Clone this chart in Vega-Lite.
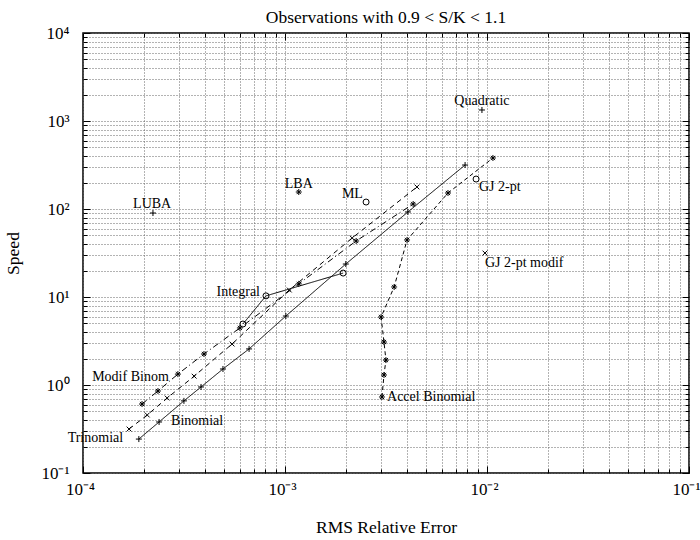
{
  "$schema": "https://vega.github.io/schema/vega-lite/v6.json",
  "width": 606,
  "height": 440,
  "autosize": {"type": "none"},
  "padding": {"left": 83, "top": 33, "right": 11, "bottom": 67},
  "background": "white",
  "title": {"text": "Observations with 0.9 < S/K < 1.1", "font": "Liberation Serif", "fontSize": 17.5, "fontWeight": "normal", "color": "black", "offset": -2},
  "config": {"view": {"stroke": "black", "strokeWidth": 1.5}, "font": "Liberation Serif"},
  "datasets": {
    "pts": [
      {"series": "Binomial", "err": 0.000189, "speed": 0.243},
      {"series": "Binomial", "err": 0.000238, "speed": 0.38},
      {"series": "Binomial", "err": 0.000316, "speed": 0.66},
      {"series": "Binomial", "err": 0.000384, "speed": 0.95},
      {"series": "Binomial", "err": 0.000493, "speed": 1.52},
      {"series": "Binomial", "err": 0.000664, "speed": 2.57},
      {"series": "Binomial", "err": 0.00101, "speed": 6.08},
      {"series": "Binomial", "err": 0.0020, "speed": 23.7},
      {"series": "Binomial", "err": 0.00406, "speed": 92.5},
      {"series": "Binomial", "err": 0.00779, "speed": 316},
      {"series": "Trinomial", "err": 0.000169, "speed": 0.316},
      {"series": "Trinomial", "err": 0.000208, "speed": 0.456},
      {"series": "Trinomial", "err": 0.000261, "speed": 0.711},
      {"series": "Trinomial", "err": 0.000355, "speed": 1.26},
      {"series": "Trinomial", "err": 0.000547, "speed": 2.92},
      {"series": "Trinomial", "err": 0.00105, "speed": 12.0},
      {"series": "Trinomial", "err": 0.00215, "speed": 46.8},
      {"series": "Trinomial", "err": 0.0045, "speed": 178},
      {"series": "Modif Binom", "err": 0.000196, "speed": 0.608},
      {"series": "Modif Binom", "err": 0.000235, "speed": 0.855},
      {"series": "Modif Binom", "err": 0.000295, "speed": 1.33},
      {"series": "Modif Binom", "err": 0.000397, "speed": 2.25},
      {"series": "Modif Binom", "err": 0.000598, "speed": 4.45},
      {"series": "Modif Binom", "err": 0.00117, "speed": 14.1},
      {"series": "Modif Binom", "err": 0.00225, "speed": 43.3},
      {"series": "Modif Binom", "err": 0.00431, "speed": 114},
      {"series": "Integral", "err": 0.000619, "speed": 4.93},
      {"series": "Integral", "err": 0.000805, "speed": 10.3},
      {"series": "Integral", "err": 0.00194, "speed": 18.7},
      {"series": "Accel Binomial", "err": 0.00302, "speed": 0.731},
      {"series": "Accel Binomial", "err": 0.00309, "speed": 1.30},
      {"series": "Accel Binomial", "err": 0.00316, "speed": 1.92},
      {"series": "Accel Binomial", "err": 0.00309, "speed": 3.08},
      {"series": "Accel Binomial", "err": 0.00299, "speed": 5.93},
      {"series": "Accel Binomial", "err": 0.00347, "speed": 13.0},
      {"series": "Accel Binomial", "err": 0.00402, "speed": 44.5},
      {"series": "Accel Binomial", "err": 0.00641, "speed": 152},
      {"series": "Accel Binomial", "err": 0.0107, "speed": 380},
      {"series": "LUBA", "err": 0.000222, "speed": 90},
      {"series": "LBA", "err": 0.00117, "speed": 156},
      {"series": "ML", "err": 0.00252, "speed": 120},
      {"series": "Quadratic", "err": 0.00944, "speed": 1334},
      {"series": "GJ 2-pt", "err": 0.00883, "speed": 219},
      {"series": "GJ 2-pt modif", "err": 0.00977, "speed": 31.6}
    ],
    "labels": [
      {"label": "Trinomial", "err": 0.000158, "speed": 0.25, "align": "right"},
      {"label": "Binomial", "err": 0.000273, "speed": 0.39, "align": "left"},
      {"label": "Modif Binom", "err": 0.000111, "speed": 1.23, "align": "left"},
      {"label": "Integral", "err": 0.000752, "speed": 11.4, "align": "right"},
      {"label": "LUBA", "err": 0.00022, "speed": 114, "align": "center"},
      {"label": "LBA", "err": 0.00117, "speed": 192, "align": "center"},
      {"label": "ML", "err": 0.00243, "speed": 148, "align": "right"},
      {"label": "Quadratic", "err": 0.00944, "speed": 1686, "align": "center"},
      {"label": "GJ 2-pt", "err": 0.00912, "speed": 178, "align": "left"},
      {"label": "GJ 2-pt modif", "err": 0.00977, "speed": 24.3, "align": "left"},
      {"label": "Accel Binomial", "err": 0.0032, "speed": 0.73, "align": "left"}
    ]
  },
  "layer": [
    {
      "data": {"name": "pts"},
      "transform": [{"filter": {"field": "series", "oneOf": ["Binomial", "Trinomial", "Modif Binom", "Integral", "Accel Binomial"]}}],
      "mark": {"type": "line", "color": "black", "strokeWidth": 1},
      "encoding": {
        "x": {"field": "err", "type": "quantitative", "scale": {"type": "log", "domain": [0.0001, 0.1], "nice": false},
          "axis": {
            "orient": "bottom",
            "values": [0.0001,0.0002,0.0003,0.0004,0.0005,0.0006,0.0007,0.0008,0.0009,0.001,0.002,0.003,0.004,0.005,0.006,0.007,0.008,0.009,0.01,0.02,0.03,0.04,0.05,0.06,0.07,0.08,0.09,0.1],
            "labelExpr": "abs(log(datum.value)/LN10 - round(log(datum.value)/LN10)) < 0.01 ? '10' + (round(log(datum.value)/LN10) == -4 ? '⁻⁴' : round(log(datum.value)/LN10) == -3 ? '⁻³' : round(log(datum.value)/LN10) == -2 ? '⁻²' : '⁻¹') : ''",
            "grid": true, "gridDash": [1, 2], "gridColor": "#666", "gridWidth": 1,
            "domain": false, "tickColor": "black", "tickWidth": 1,
            "tickSize": {"condition": {"test": "abs(log(datum.value)/LN10 - round(log(datum.value)/LN10)) < 0.01", "value": -7}, "value": -4},
            "labelPadding": 15, "labelOffset": -3, "labelFont": "Liberation Serif", "labelFontSize": 17, "labelColor": "black", "labelFlush": false, "labelOverlap": false,
            "title": "RMS Relative Error", "titleFont": "Liberation Serif", "titleFontSize": 17.5, "titleFontWeight": "normal", "titleColor": "black", "titlePadding": 18
          }},
        "y": {"field": "speed", "type": "quantitative", "scale": {"type": "log", "domain": [0.1, 10000], "nice": false},
          "axis": {
            "orient": "left",
            "values": [0.1,0.2,0.3,0.4,0.5,0.6,0.7,0.8,0.9,1,2,3,4,5,6,7,8,9,10,20,30,40,50,60,70,80,90,100,200,300,400,500,600,700,800,900,1000,2000,3000,4000,5000,6000,7000,8000,9000,10000],
            "labelExpr": "abs(log(datum.value)/LN10 - round(log(datum.value)/LN10)) < 0.01 ? '10' + (round(log(datum.value)/LN10) == -1 ? '⁻¹' : round(log(datum.value)/LN10) == 0 ? '⁰' : round(log(datum.value)/LN10) == 1 ? '¹' : round(log(datum.value)/LN10) == 2 ? '²' : round(log(datum.value)/LN10) == 3 ? '³' : '⁴') : ''",
            "grid": true, "gridDash": [1, 2], "gridColor": "#666", "gridWidth": 1,
            "domain": false, "tickColor": "black", "tickWidth": 1,
            "tickSize": {"condition": {"test": "abs(log(datum.value)/LN10 - round(log(datum.value)/LN10)) < 0.01", "value": -7}, "value": -4},
            "labelPadding": 21, "labelFont": "Liberation Serif", "labelFontSize": 17, "labelColor": "black", "labelOverlap": false, "labelFlush": false,
            "title": "Speed", "titleFont": "Liberation Serif", "titleFontSize": 17.5, "titleFontWeight": "normal", "titleColor": "black", "titlePadding": 18
          }},
        "strokeDash": {"field": "series", "type": "nominal", "legend": null,
          "scale": {"domain": ["Binomial", "Trinomial", "Modif Binom", "Integral", "Accel Binomial"], "range": [[1, 0], [5, 4], [6, 3, 1, 3], [1, 0], [4, 3]]}},
        "order": {"field": "speed", "type": "quantitative"}
      }
    },
    {
      "data": {"name": "pts"},
      "mark": {"type": "point", "filled": false, "stroke": "black", "strokeWidth": 1, "size": 36, "opacity": 1},
      "encoding": {
        "x": {"field": "err", "type": "quantitative", "scale": {"type": "log", "domain": [0.0001, 0.1], "nice": false}, "axis": null},
        "y": {"field": "speed", "type": "quantitative", "scale": {"type": "log", "domain": [0.1, 10000], "nice": false}, "axis": null},
        "shape": {"field": "series", "type": "nominal", "legend": null,
          "scale": {"domain": ["Binomial", "Trinomial", "Modif Binom", "Integral", "Accel Binomial", "LUBA", "LBA", "ML", "Quadratic", "GJ 2-pt", "GJ 2-pt modif"],
            "range": ["M-1,0L1,0M0,-1L0,1", "M-0.8,-0.8L0.8,0.8M-0.8,0.8L0.8,-0.8", "M-1,0L1,0M0,-1L0,1M-0.7,-0.7L0.7,0.7M-0.7,0.7L0.7,-0.7", "circle", "M-1,0L1,0M0,-1L0,1M-0.7,-0.7L0.7,0.7M-0.7,0.7L0.7,-0.7", "M-1,0L1,0M0,-1L0,1", "M-1,0L1,0M0,-1L0,1M-0.7,-0.7L0.7,0.7M-0.7,0.7L0.7,-0.7", "circle", "M-1,0L1,0M0,-1L0,1", "circle", "M-0.8,-0.8L0.8,0.8M-0.8,0.8L0.8,-0.8"]}}
      }
    },
    {
      "data": {"name": "labels"},
      "transform": [{"filter": {"field": "align", "equal": "left"}}],
      "mark": {"type": "text", "align": "left", "baseline": "middle", "font": "Liberation Serif", "fontSize": 14, "color": "black"},
      "encoding": {
        "x": {"field": "err", "type": "quantitative", "scale": {"type": "log", "domain": [0.0001, 0.1], "nice": false}, "axis": null},
        "y": {"field": "speed", "type": "quantitative", "scale": {"type": "log", "domain": [0.1, 10000], "nice": false}, "axis": null},
        "text": {"field": "label"}
      }
    },
    {
      "data": {"name": "labels"},
      "transform": [{"filter": {"field": "align", "equal": "right"}}],
      "mark": {"type": "text", "align": "right", "baseline": "middle", "font": "Liberation Serif", "fontSize": 14, "color": "black"},
      "encoding": {
        "x": {"field": "err", "type": "quantitative", "scale": {"type": "log", "domain": [0.0001, 0.1], "nice": false}, "axis": null},
        "y": {"field": "speed", "type": "quantitative", "scale": {"type": "log", "domain": [0.1, 10000], "nice": false}, "axis": null},
        "text": {"field": "label"}
      }
    },
    {
      "data": {"name": "labels"},
      "transform": [{"filter": {"field": "align", "equal": "center"}}],
      "mark": {"type": "text", "align": "center", "baseline": "middle", "font": "Liberation Serif", "fontSize": 14, "color": "black"},
      "encoding": {
        "x": {"field": "err", "type": "quantitative", "scale": {"type": "log", "domain": [0.0001, 0.1], "nice": false}, "axis": null},
        "y": {"field": "speed", "type": "quantitative", "scale": {"type": "log", "domain": [0.1, 10000], "nice": false}, "axis": null},
        "text": {"field": "label"}
      }
    },
    {
      "data": {"name": "pts"},
      "mark": {"type": "point", "opacity": 0},
      "encoding": {
        "x": {"field": "err", "type": "quantitative", "scale": {"type": "log", "domain": [0.0001, 0.1], "nice": false},
          "axis": {
            "orient": "top", "title": null, "labels": false, "grid": false, "domain": false,
            "values": [0.0001,0.0002,0.0003,0.0004,0.0005,0.0006,0.0007,0.0008,0.0009,0.001,0.002,0.003,0.004,0.005,0.006,0.007,0.008,0.009,0.01,0.02,0.03,0.04,0.05,0.06,0.07,0.08,0.09,0.1],
            "tickColor": "black", "tickWidth": 1,
            "tickSize": {"condition": {"test": "abs(log(datum.value)/LN10 - round(log(datum.value)/LN10)) < 0.01", "value": -7}, "value": -4}
          }},
        "y": {"field": "speed", "type": "quantitative", "scale": {"type": "log", "domain": [0.1, 10000], "nice": false},
          "axis": {
            "orient": "right", "title": null, "labels": false, "grid": false, "domain": false,
            "values": [0.1,0.2,0.3,0.4,0.5,0.6,0.7,0.8,0.9,1,2,3,4,5,6,7,8,9,10,20,30,40,50,60,70,80,90,100,200,300,400,500,600,700,800,900,1000,2000,3000,4000,5000,6000,7000,8000,9000,10000],
            "tickColor": "black", "tickWidth": 1,
            "tickSize": {"condition": {"test": "abs(log(datum.value)/LN10 - round(log(datum.value)/LN10)) < 0.01", "value": -7}, "value": -4}
          }}
      }
    }
  ],
  "resolve": {"axis": {"x": "independent", "y": "independent"}}
}
